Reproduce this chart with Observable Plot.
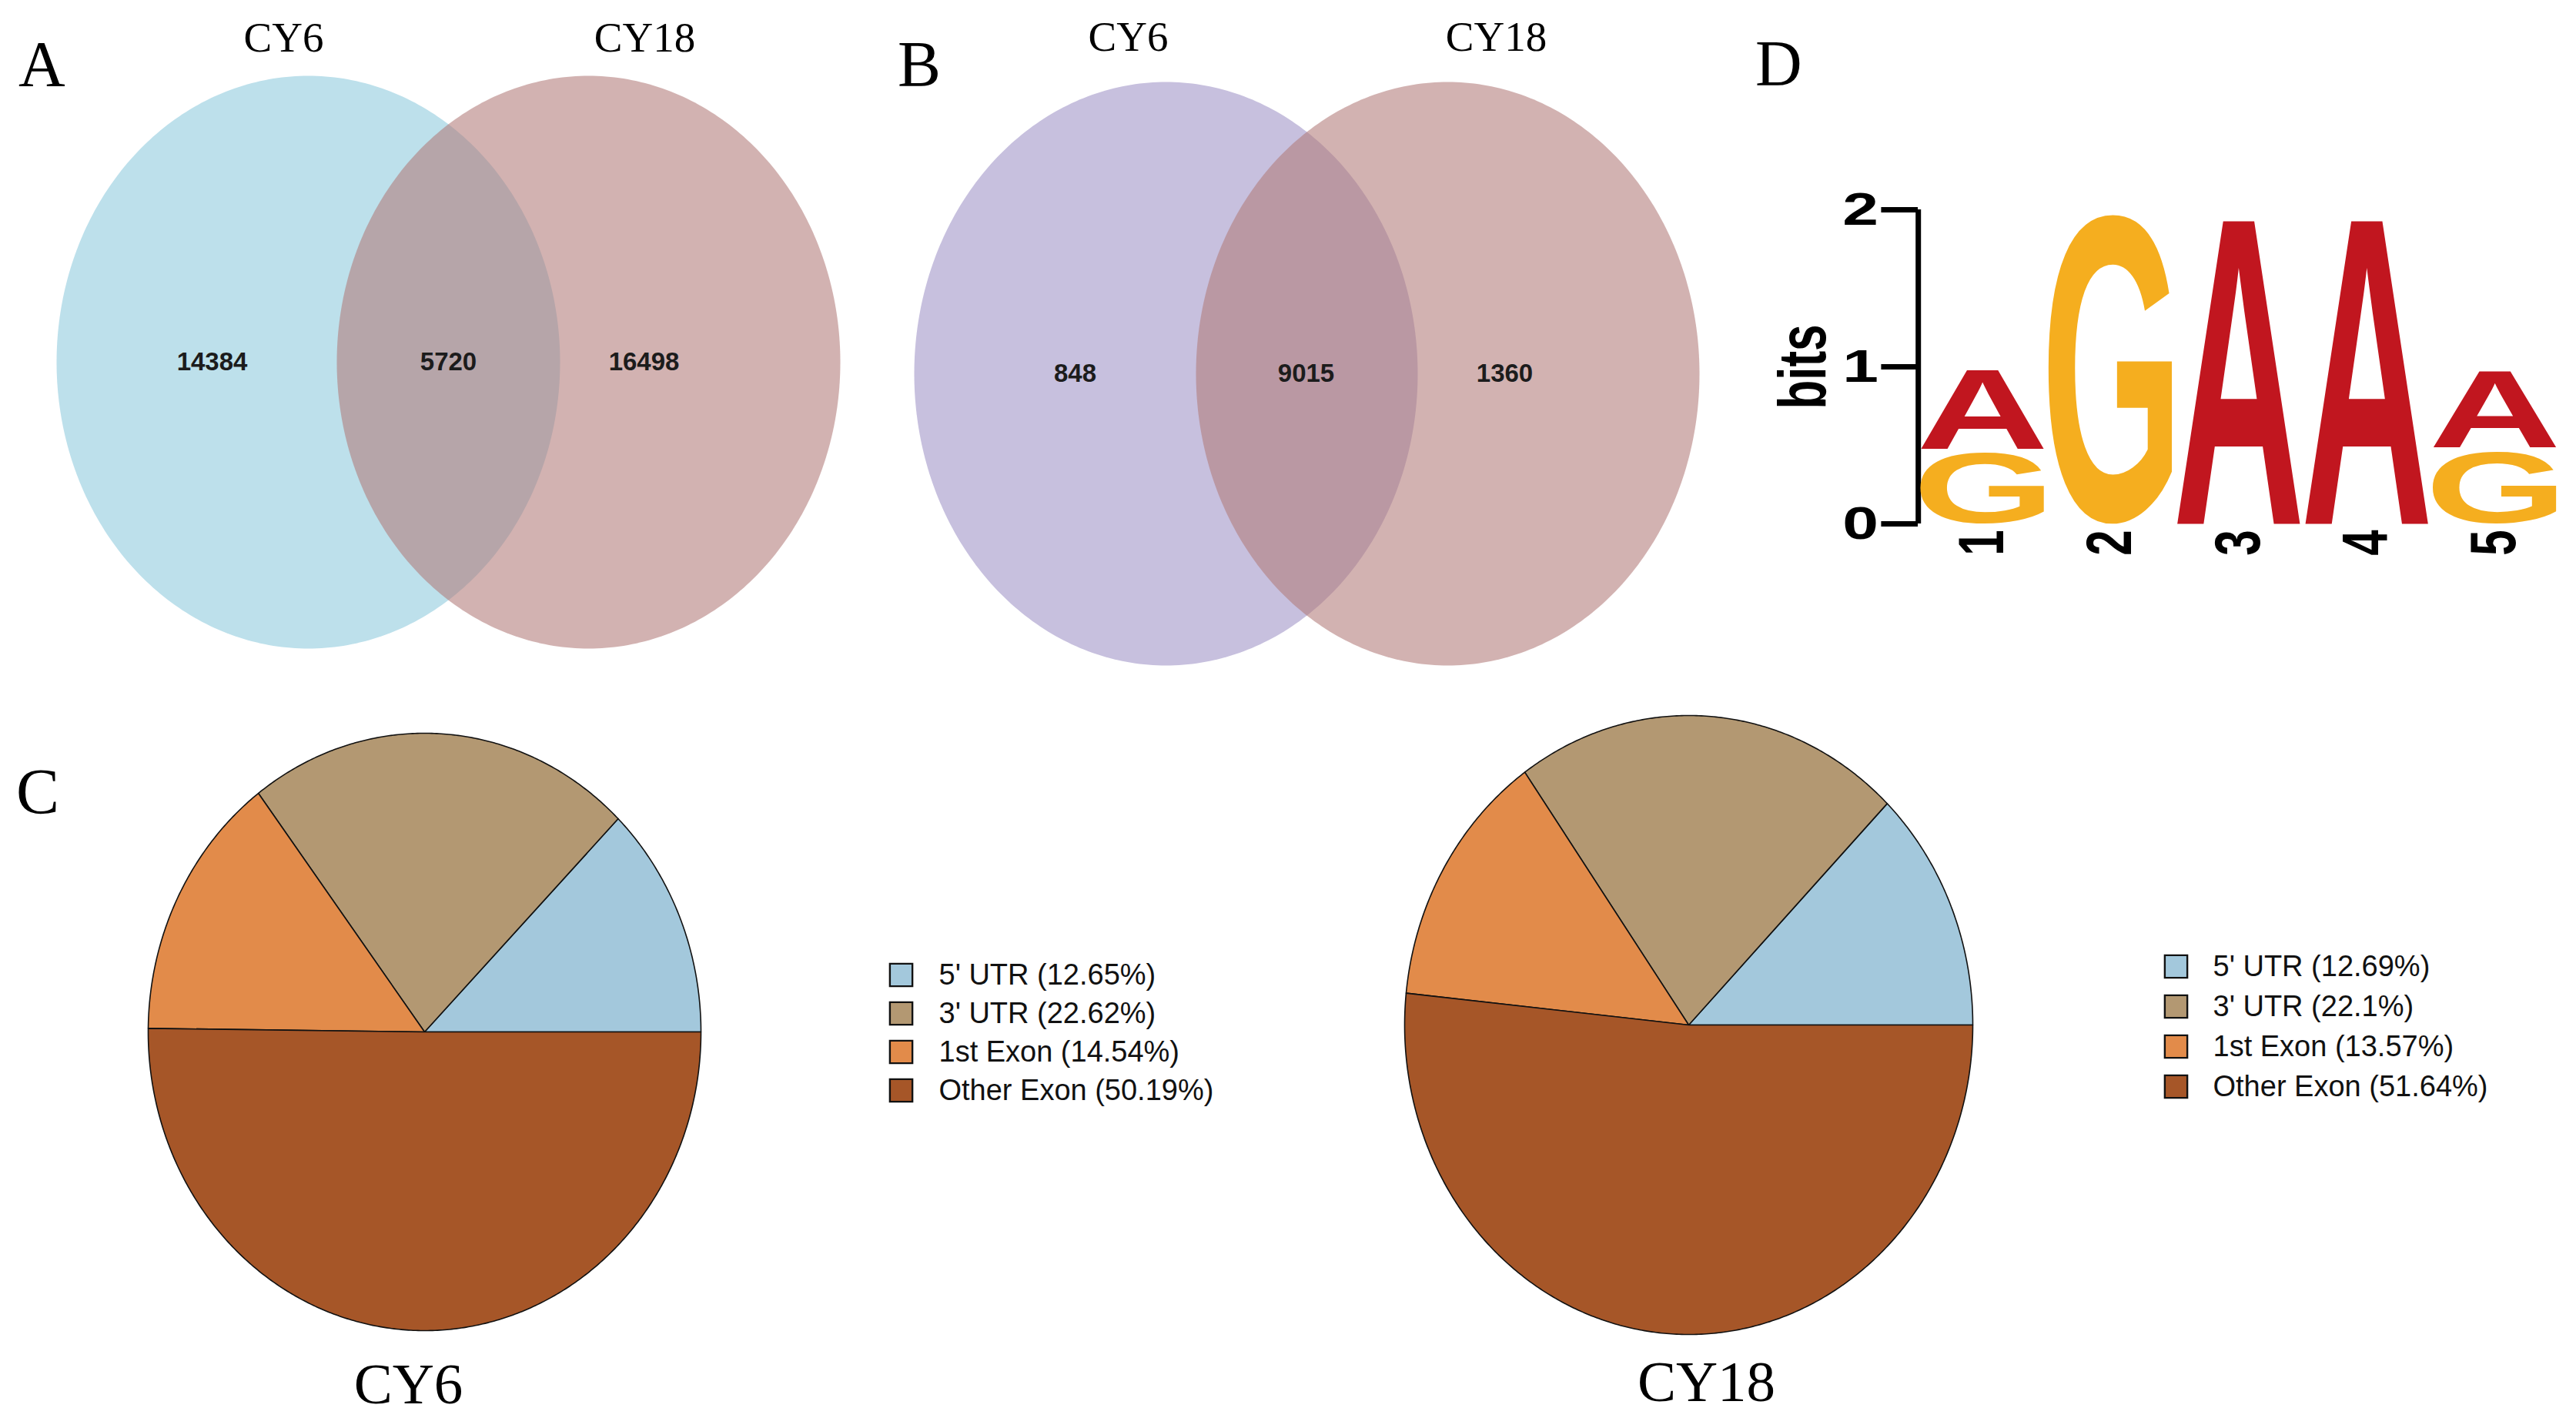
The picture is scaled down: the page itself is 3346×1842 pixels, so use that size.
<!DOCTYPE html>
<html><head><meta charset="utf-8">
<script src="https://cdn.jsdelivr.net/npm/d3@7"></script>
<script src="https://cdn.jsdelivr.net/npm/@observablehq/plot@0.6"></script>
<style>
body{margin:0;background:#fff;}
#root{position:relative;width:3346px;height:1842px;overflow:hidden;background:#fff;}
.panel{position:absolute;}
.plabel{position:absolute;font-family:'Liberation Serif','Times New Roman',Times,serif;color:#000;white-space:nowrap;}
#logo-wrap g[aria-label^="y-axis"] line, #logo-wrap g[aria-label^="y-axis"] path{stroke-width:7px;stroke:#000;}
</style></head><body><div id="root"></div>
<script>
// ---------------- data ----------------
const setNames = ["CY6", "CY18"];
const vennA = [14384, 5720, 16498];   // CY6 only, shared, CY18 only
const vennB = [848, 9015, 1360];
const regions = ["5' UTR", "3' UTR", "1st Exon", "Other Exon"];
const pctCY6 = [12.65, 22.62, 14.54, 50.19];
const pctCY18 = [12.69, 22.1, 13.57, 51.64];
const pieNames = ["CY6", "CY18"];
const logoPositions = [1, 2, 3, 4, 5];
const logoG = [0.45, 1.97, 0, 0, 0.46];   // bits of G per position
const logoA = [0.51, 0, 1.96, 1.96, 0.49]; // bits of A per position
const bitsTicks = [0, 1, 2];

// ---------------- style ----------------
const serif = "'Liberation Serif','Times New Roman',Times,serif";
const sans = "'Liberation Sans',Arial,Helvetica,sans-serif";
const narrow = "'Liberation Sans Narrow','Arial Narrow','Liberation Sans',Arial,sans-serif";
const pieColors = ["#a3c8dc", "#b39872", "#e28b4a", "#a65628"];
const logoLetters = ["A", "G"];
const logoColors = ["#c1161f", "#f5ae1f"];
const baseStyle = {background: "transparent", maxWidth: "none", overflow: "visible"};
const root = document.getElementById("root");

function place(node, left, top, w, h, id) {
  const div = document.createElement("div");
  div.className = "panel";
  if (id) div.id = id;
  Object.assign(div.style, {left: left + "px", top: top + "px", width: w + "px", height: h + "px"});
  div.appendChild(node);
  root.appendChild(div);
  return div;
}

// ---------------- Venn ----------------
function venn(counts, fills, fillOpacity, L) {
  const mid = (L.c1 + L.c2) / 2, d = (L.c2 - L.c1) / 2 / L.rx;
  const X = px => (px - mid) / L.rx, Y = py => (L.cy - py) / L.ry;
  const ring = (sign, name) => d3.range(0, 360, 1).map(a => ({set: name, x: sign * d + Math.cos(a * Math.PI / 180), y: Math.sin(a * Math.PI / 180)}));
  return Plot.plot({
    width: L.width, height: L.height, margin: 0,
    x: {domain: [X(L.left), X(L.left + L.width)], axis: null},
    y: {domain: [Y(L.top + L.height), Y(L.top)], axis: null},
    style: baseStyle,
    marks: [
      Plot.line(ring(-1, setNames[0]), {x: "x", y: "y", fill: fills[0], stroke: "none"}),
      Plot.line(ring(1, setNames[1]), {x: "x", y: "y", fill: fills[1], fillOpacity, stroke: "none"}),
      Plot.text(counts, {x: (v, i) => X(L.labelX[i]), y: Y(L.cy), text: v => String(v), fontSize: 33, fontWeight: "bold", fontFamily: narrow, fill: "#1c1c1c"}),
      Plot.text(setNames, {x: (v, i) => X(L.titleX[i]), y: Y(L.titleBase), text: v => v, lineAnchor: "bottom", fontSize: 55, fontFamily: serif, fill: "#000"})
    ]
  });
}
const LA = {left: 0, top: 0, width: 1120, height: 900, c1: 400, c2: 764, cy: 470, rx: 327, ry: 372, labelX: [275, 582, 836], titleX: [368, 837], titleBase: 66};
const LB = {left: 1150, top: 0, width: 1100, height: 900, c1: 1514, c2: 1880, cy: 485, rx: 327, ry: 379, labelX: [1396, 1696, 1954], titleX: [1465, 1943], titleBase: 65};
place(venn(vennA, ["#bde0eb", "#b27a79"], 0.58, LA), LA.left, LA.top, LA.width, LA.height);
place(venn(vennB, ["#c7c0de", "#b27a79"], 0.58, LB), LB.left, LB.top, LB.width, LB.height);

// ---------------- Pies ----------------
function pie(pct, name, L) {
  const X = px => (px - L.cx) / L.rx, Y = py => (L.cy - py) / L.ry;
  const total = d3.sum(pct);
  let acc = 0;
  const pts = [];
  regions.forEach((r, i) => {
    const a0 = acc / total * 2 * Math.PI; acc += pct[i]; const a1 = acc / total * 2 * Math.PI;
    const n = Math.max(2, Math.ceil((a1 - a0) / (Math.PI / 360)));
    pts.push({region: r, x: 0, y: 0});
    for (let k = 0; k <= n; k++) { const a = a0 + (a1 - a0) * k / n; pts.push({region: r, x: Math.cos(a), y: Math.sin(a)}); }
    pts.push({region: r, x: 0, y: 0});
  });
  return Plot.plot({
    width: L.width, height: L.height, margin: 0,
    x: {domain: [X(L.left), X(L.left + L.width)], axis: null},
    y: {domain: [Y(L.top + L.height), Y(L.top)], axis: null},
    color: {domain: regions, range: pieColors},
    style: baseStyle,
    marks: [
      Plot.line(pts, {x: "x", y: "y", z: "region", fill: "region", stroke: "#111", strokeWidth: 1.6, strokeLinejoin: "round"}),
      Plot.text([name], {x: X(L.nameX), y: Y(L.nameBase), text: d => d, lineAnchor: "bottom", fontSize: 75, fontFamily: serif, fill: "#000"})
    ]
  });
}
function legend(pct, L) {
  return Plot.plot({
    width: L.width, height: L.rowH * regions.length, margin: 0,
    y: {type: "band", domain: regions, axis: null, padding: 0},
    color: {domain: regions, range: pieColors},
    style: baseStyle,
    marks: [
      Plot.dot(regions, {y: d => d, frameAnchor: "left", dx: L.squareCx - L.left, symbol: "square", r: 16.5, fill: d => d, stroke: "#111", strokeWidth: 2.4}),
      Plot.text(regions, {y: d => d, frameAnchor: "left", dx: L.textX - L.left, text: (d, i) => `${d} (${pct[i]}%)`, textAnchor: "start", fontSize: 38, fontFamily: sans, fill: "#111"})
    ]
  });
}
const P1 = {left: 100, top: 900, width: 1000, height: 942, cx: 551, cy: 1340, rx: 359, ry: 388, nameX: 530, nameBase: 1822};
const P2 = {left: 1700, top: 880, width: 1000, height: 962, cx: 2193, cy: 1331, rx: 369, ry: 402, nameX: 2216, nameBase: 1819};
place(pie(pctCY6, pieNames[0], P1), P1.left, P1.top, P1.width, P1.height);
place(pie(pctCY18, pieNames[1], P2), P2.left, P2.top, P2.width, P2.height);
const G1 = {left: 1100, top: 1240, width: 520, rowH: 50.3, squareCx: 1170, textX: 1219};
const G2 = {left: 2760, top: 1229, width: 580, rowH: 52, squareCx: 2826, textX: 2874};
place(legend(pctCY6, G1), G1.left, G1.top, G1.width, G1.rowH * 4);
place(legend(pctCY18, G2), G2.left, G2.top, G2.width, G2.rowH * 4);

// ---------------- Sequence logo ----------------
const S = 1.4;           // horizontal stretch of the logo image
const letterGap = 0.03;  // visual gap between stacked letters (bits)
const letterFill = 0.97; // share of column width used by a letter
const LG = {left: 2250, top: 0, width: 1096, height: 760, colL: 2491, colR: 3323, y0: 680, y2: 272, bitsX: 2343};
const stack = [];
logoPositions.forEach((p, i) => {
  const items = [{letter: "G", h: logoG[i]}, {letter: "A", h: logoA[i]}].filter(d => d.h > 0).sort((a, b) => a.h - b.h);
  let base = 0;
  items.forEach((it, k) => { if (k > 0) base += letterGap; stack.push({pos: p, letter: it.letter, y0: base, y1: base + it.h}); base += it.h; });
});
const uW = LG.width / S;
const xDom = [logoPositions[0] - 0.5, logoPositions[logoPositions.length - 1] + 0.5];
const logo = Plot.plot({
  width: uW, height: LG.height,
  marginLeft: (LG.colL - LG.left) / S, marginRight: (LG.left + LG.width - LG.colR) / S,
  marginTop: LG.y2, marginBottom: LG.height - LG.y0,
  x: {domain: xDom, ticks: logoPositions, tickFormat: d => String(d), tickSize: 0, tickPadding: 8, tickRotate: -90, label: null},
  y: {domain: [0, 2], ticks: bitsTicks, tickFormat: d => String(d), tickSize: 34, tickPadding: 3, label: null},
  color: {domain: logoLetters, range: logoColors},
  style: {...baseStyle, fontFamily: sans, fontSize: "60px", fontWeight: "bold", color: "#000"},
  marks: [
    Plot.ruleX([xDom[0]], {y1: 0, y2: 2, strokeWidth: 5, stroke: "#000"}),
    Plot.text(stack, {x: "pos", y: "y0", text: "letter", fill: "letter", fontSize: 100, fontFamily: sans, fontWeight: "bold"}),
    Plot.text(["bits"], {frameAnchor: "left", dx: (LG.bitsX - LG.colL) / S, rotate: -90, textAnchor: "middle", text: d => d, fontSize: 62, fontWeight: "bold", fontFamily: sans, fill: "#000"})
  ]
});
// fit each letter glyph to its stack cell, using Plot's own scales
{
  const xs = logo.scale("x"), ys = logo.scale("y");
  const lin = (sc) => sc.apply ? (v => sc.apply(v)) : d3.scaleLinear(sc.domain, sc.range);
  const fx = lin(xs), fy = lin(ys);
  const ctx = document.createElement("canvas").getContext("2d");
  ctx.font = `bold 100px ${sans}`;
  const els = Array.from(logo.querySelectorAll("text")).filter(t => t.textContent === "A" || t.textContent === "G");
  els.forEach((el, i) => {
    const d = stack[i];
    const m = ctx.measureText(d.letter);
    const L = m.actualBoundingBoxLeft, R = m.actualBoundingBoxRight, A = m.actualBoundingBoxAscent, D = m.actualBoundingBoxDescent;
    const cx = fx(d.pos), w = (fx(d.pos + 0.5) - fx(d.pos - 0.5)) * letterFill;
    const yb = fy(d.y0), h = fy(d.y0) - fy(d.y1);
    ["x", "y", "dx", "dy"].forEach(a => el.removeAttribute(a));
    el.setAttribute("text-anchor", "start");
    el.setAttribute("font-size", "100");
    el.setAttribute("font-family", sans);
    el.setAttribute("font-weight", "bold");
    el.setAttribute("transform", `translate(${cx},${yb}) scale(${w / (L + R)},${h / (A + D)}) translate(${-(R - L) / 2},${-D})`);
  });
}
logo.setAttribute("width", LG.width);
logo.setAttribute("preserveAspectRatio", "none");
logo.style.width = LG.width + "px";
logo.style.height = LG.height + "px";
place(logo, LG.left, LG.top, LG.width, LG.height, "logo-wrap");

// ---------------- panel letters ----------------
function panelLetter(ch, left, baseline, size) {
  const div = document.createElement("div");
  div.className = "plabel";
  div.textContent = ch;
  Object.assign(div.style, {left: left + "px", top: (baseline - 0.8375 * size) + "px", fontSize: size + "px", lineHeight: size + "px"});
  root.appendChild(div);
}
panelLetter("A", 24, 112, 84);
panelLetter("B", 1166, 112, 84);
panelLetter("C", 21, 1057, 84);
panelLetter("D", 2280, 111, 84);
</script></body></html>
